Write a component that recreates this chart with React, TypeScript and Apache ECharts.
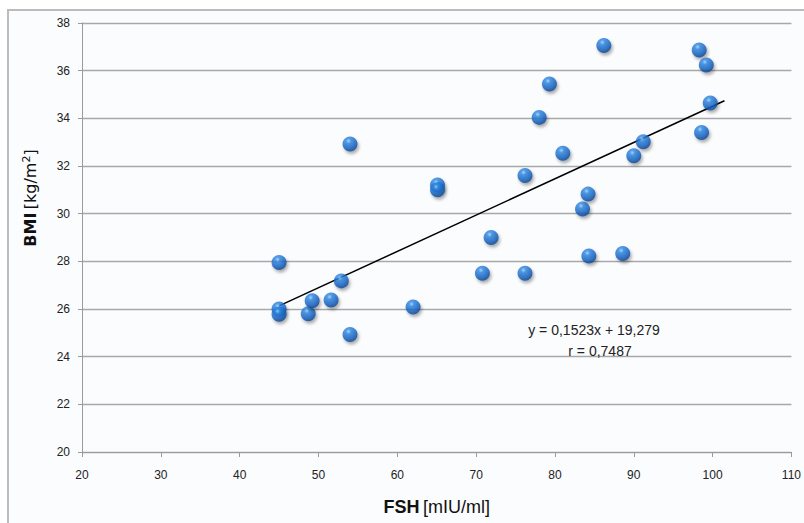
import React, { useEffect, useRef } from "react";
import * as echarts from "echarts";

const fshValues = [45, 45, 45, 48.7, 49.2, 51.6, 52.9, 54.0, 54.0, 62.0, 65.1, 65.1, 70.8, 71.9, 76.2, 76.2, 78.0, 79.3, 81.0, 83.5, 84.2, 84.3, 86.2, 88.6, 90.0, 91.2, 98.3, 98.6, 99.2, 99.7];
const bmiValues = [27.95, 26.0, 25.78, 25.8, 26.35, 26.38, 27.18, 24.93, 32.92, 26.08, 31.2, 31.0, 27.5, 29.0, 27.5, 31.6, 34.04, 35.44, 32.53, 30.2, 30.82, 28.22, 37.06, 28.33, 32.43, 33.02, 36.87, 33.41, 36.24, 34.64];
const trendX = [45, 101.5];
const trendY = [26.13, 34.74];
const xTicks = { min: 20, max: 110, interval: 10 };
const yTicks = { min: 20, max: 38, interval: 2 };
const equationText = "y = 0,1523x + 19,279";
const rText = "r = 0,7487";

export default function App() {
  const ref = useRef<HTMLDivElement>(null);
  useEffect(() => {
    if (!ref.current) return;
    const chart = echarts.init(ref.current, null, { renderer: "svg" });
    const narrow = "'Liberation Sans Narrow', 'Liberation Sans', Arial, sans-serif";
    const dv = "'DejaVu Sans', Verdana, sans-serif";
    const points = fshValues.map((x, i) => [x, bmiValues[i]]);
    const trend = trendX.map((x, i) => [x, trendY[i]]);
    chart.setOption({
      animation: false,
      backgroundColor: "#ffffff",
      graphic: [
        {
          type: "rect",
          z: -10,
          silent: true,
          shape: { x: 8, y: 10, width: 820, height: 540 },
          style: { fill: "#fbfcfe", stroke: "#bcbcbc", lineWidth: 2 },
        },
        {
          type: "text",
          x: 594,
          y: 330,
          z: 10,
          style: { text: equationText, font: "14px " + narrow, fill: "#222", align: "center", verticalAlign: "middle" },
        },
        {
          type: "text",
          x: 600,
          y: 351,
          z: 10,
          style: { text: rText, font: "14px " + narrow, fill: "#222", align: "center", verticalAlign: "middle" },
        },
        {
          type: "text",
          x: 30,
          y: 198,
          rotation: Math.PI / 2,
          z: 10,
          style: {
            text: "{b|BMI} {n|[kg/m}{s|2}{n|]}",
            align: "center",
            verticalAlign: "middle",
            rich: {
              b: { fontFamily: dv, fontSize: 16, fontWeight: "bold", fill: "#111" },
              n: { fontFamily: dv, fontSize: 16, fill: "#111" },
              s: { fontFamily: dv, fontSize: 11, fill: "#111", verticalAlign: "top", padding: [0, 0, 8, 0] },
            },
          },
        },
      ],
      grid: { left: 82, right: 10, top: 23, bottom: 71, containLabel: false },
      xAxis: {
        type: "value",
        min: xTicks.min,
        max: xTicks.max,
        interval: xTicks.interval,
        name: "{b|FSH} {n|[mIU/ml]}",
        nameLocation: "middle",
        nameGap: 46,
        nameTextStyle: {
          rich: {
            b: { fontFamily: narrow, fontSize: 18, fontWeight: "bold", color: "#111" },
            n: { fontFamily: narrow, fontSize: 18, color: "#111" },
          },
        },
        axisLine: { show: true, lineStyle: { color: "#9a9a9a", width: 1 } },
        axisTick: { show: true, length: 5, lineStyle: { color: "#9a9a9a" } },
        axisLabel: { fontFamily: narrow, fontSize: 12, color: "#222", margin: 17 },
        splitLine: { show: false },
      },
      yAxis: {
        type: "value",
        min: yTicks.min,
        max: yTicks.max,
        interval: yTicks.interval,
        axisLine: { show: true, lineStyle: { color: "#9a9a9a", width: 1 } },
        axisTick: { show: true, length: 4, lineStyle: { color: "#9a9a9a" } },
        axisLabel: { fontFamily: narrow, fontSize: 12, color: "#222", margin: 12 },
        splitLine: { show: true, lineStyle: { color: "#a8a8a8", width: 1.3 } },
      },
      series: [
        {
          type: "line",
          data: trend,
          symbol: "none",
          z: 3,
          lineStyle: { color: "#000", width: 1.5 },
          silent: true,
        },
        {
          type: "scatter",
          data: points,
          symbolSize: 15,
          z: 4,
          itemStyle: {
            color: {
              type: "radial",
              x: 0.4,
              y: 0.3,
              r: 0.75,
              colorStops: [
                { offset: 0, color: "#9bd2ff" },
                { offset: 0.22, color: "#2f88e4" },
                { offset: 0.65, color: "#1663c2" },
                { offset: 1, color: "#0a3c80" },
              ],
            },
            shadowColor: "rgba(0,0,0,0.4)",
            shadowBlur: 3,
            shadowOffsetX: 1.5,
            shadowOffsetY: 2.5,
          },
        },
      ],
    });
    return () => chart.dispose();
  }, []);
  return (
    <div
      ref={ref}
      style={{ position: "fixed", left: 0, top: 0, width: 804, height: 523 }}
    />
  );
}
